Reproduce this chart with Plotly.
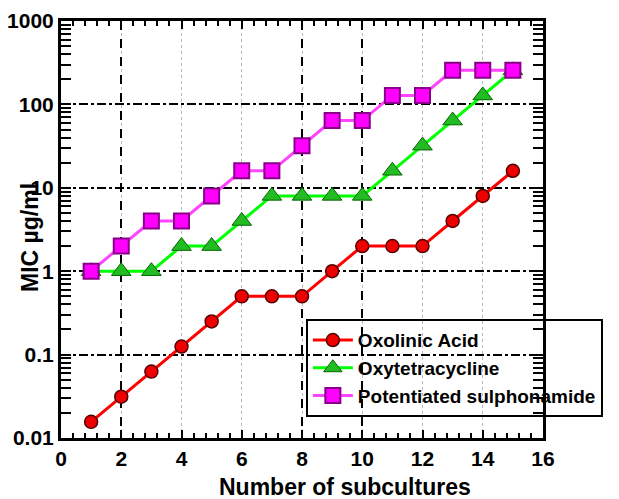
import plotly.graph_objects as go

subcultures = list(range(1, 16))
oxolinic = [0.015625, 0.03125, 0.0625, 0.125, 0.25, 0.5, 0.5, 0.5, 1, 2, 2, 2, 4, 8, 16]
oxytet = [1, 1, 1, 2, 2, 4, 8, 8, 8, 8, 16, 32, 64, 128, 256]
sulpha = [1, 2, 4, 4, 8, 16, 16, 32, 64, 64, 128, 128, 256, 256, 256]
ytickvals = [0.01, 0.1, 1, 10, 100, 1000]
yticktext = ["0.01", "0.1", "1", "10", "100", "1000"]
x_title = "Number of subcultures"
y_title = "MIC µg/ml"

FONT = "Liberation Sans, Arial, sans-serif"

fig = go.Figure()
fig.add_trace(go.Scatter(x=subcultures, y=oxolinic, mode="lines+markers", name="Oxolinic Acid",
                         line=dict(color="#ff0000", width=3),
                         marker=dict(symbol="circle", size=13, color="#ee0000",
                                     line=dict(color="#550000", width=1.5))))
fig.add_trace(go.Scatter(x=subcultures, y=oxytet, mode="lines+markers", name="Oxytetracycline",
                         line=dict(color="#00ff00", width=3),
                         marker=dict(symbol="triangle-up", size=17, color="#22bb22",
                                     line=dict(color="#006600", width=1))))
fig.add_trace(go.Scatter(x=subcultures, y=sulpha, mode="lines+markers", name="Potentiated sulphonamide",
                         line=dict(color="#ff44ff", width=3),
                         marker=dict(symbol="square", size=15, color="#ff00ff",
                                     line=dict(color="#880088", width=2))))

# secondary x axis for the dashed black gridlines
fig.add_trace(go.Scatter(x=[None], y=[None], xaxis="x2", showlegend=False, hoverinfo="skip"))

fig.update_layout(
    width=619, height=499,
    margin=dict(l=61, r=76, t=21, b=61, autoexpand=False),
    paper_bgcolor="white", plot_bgcolor="white",
    font=dict(family=FONT, color="black", size=20, weight="bold"),
    showlegend=True,
    legend=dict(x=0.508, y=0.285, xanchor="left", yanchor="top",
                bgcolor="rgba(0,0,0,0)", bordercolor="black", borderwidth=2,
                font=dict(family=FONT, size=19, weight="bold"),
                tracegroupgap=0, itemwidth=40),
    xaxis=dict(range=[0, 16], dtick=2, showline=True, linecolor="black", linewidth=3,
               mirror="allticks", ticks="inside", ticklen=8, tickwidth=2, tickcolor="black",
               showgrid=True, gridcolor="#bbbbbb", griddash="dot", gridwidth=1,
               zeroline=False, automargin=False,
               minor=dict(dtick=0.4, ticks="inside", ticklen=5, tickwidth=1.5, tickcolor="black", showgrid=False),
               tickfont=dict(size=21, weight="bold")),
    xaxis2=dict(range=[0, 16], overlaying="x", tickvals=[2, 8, 10], showticklabels=False,
                showgrid=True, gridcolor="black", griddash="dash", gridwidth=2, ticks="",
                showline=False, zeroline=False, automargin=False),
    yaxis=dict(type="log", range=[-2, 3], tickvals=ytickvals, ticktext=yticktext,
               showline=True, linecolor="black", linewidth=3, mirror="allticks",
               ticks="inside", ticklen=10, tickwidth=2, tickcolor="black",
               showgrid=True, gridcolor="black", griddash="dashdot", gridwidth=1.5,
               zeroline=False, automargin=False,
               minor=dict(dtick="D1", ticks="inside", ticklen=7, tickwidth=1.5, tickcolor="black", showgrid=False),
               tickfont=dict(size=21, weight="bold")),
    annotations=[
        dict(text=x_title, xref="paper", yref="paper", x=0.59, y=-0.1175,
             xanchor="center", yanchor="middle", showarrow=False,
             font=dict(size=23, weight="bold", family=FONT)),
        dict(text=y_title, xref="paper", yref="paper", x=-0.064, y=0.48,
             xanchor="center", yanchor="middle", showarrow=False, textangle=-90,
             font=dict(size=23, weight="bold", family=FONT)),
    ],
)

fig.write_html("out.html", config={"displayModeBar": False},
               post_script="document.body.style.margin='0';document.body.style.padding='0';")
